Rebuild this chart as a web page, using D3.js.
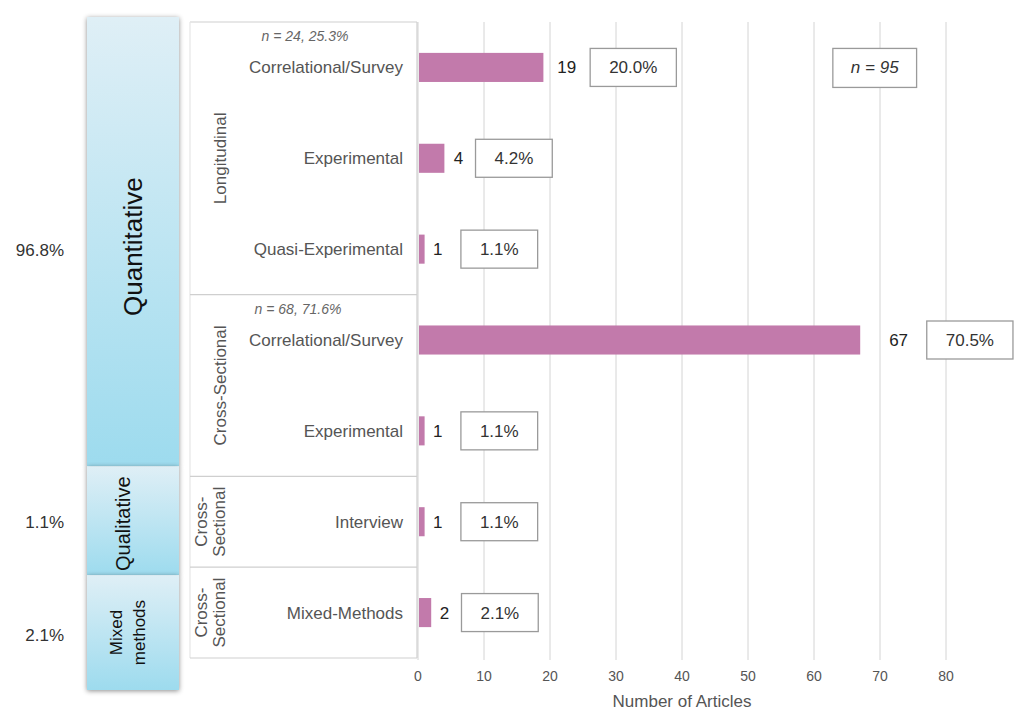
<!DOCTYPE html>
<html>
<head>
<meta charset="utf-8">
<script src="https://cdn.jsdelivr.net/npm/d3@7"></script>
<style>
  html, body { margin: 0; padding: 0; background: #fff; }
  svg { display: block; font-family: "Liberation Sans", Arial, Helvetica, sans-serif; }
</style>
</head>
<body>
<svg id="chart" width="1017" height="712"></svg>
<script>
// ---------------- DATA ----------------
const rowLabels = ["Correlational/Survey", "Experimental", "Quasi-Experimental",
                   "Correlational/Survey", "Experimental", "Interview", "Mixed-Methods"];
const counts = [19, 4, 1, 67, 1, 1, 2];
const percents = ["20.0%", "4.2%", "1.1%", "70.5%", "1.1%", "1.1%", "2.1%"];

const designLabels = [["Longitudinal"], ["Cross-Sectional"], ["Cross-", "Sectional"], ["Cross-", "Sectional"]];
const designRows = [[0, 2], [3, 4], [5, 5], [6, 6]];
const designNotes = ["n = 24, 25.3%", "n = 68, 71.6%", "", ""];

const methodLabels = [["Quantitative"], ["Qualitative"], ["Mixed", "methods"]];
const methodRows = [[0, 4], [5, 5], [6, 6]];
const methodPercents = ["96.8%", "1.1%", "2.1%"];

const totalLabel = "n = 95";
const xTicks = [0, 10, 20, 30, 40, 50, 60, 70, 80];
const xTitle = "Number of Articles";

// ---------------- LAYOUT ----------------
const svg = d3.select("#chart");
const topY = 22, bottomY = 658;
const x = d3.scaleLinear().domain([0, 80]).range([418, 946]);
const y = d3.scaleBand().domain(d3.range(rowLabels.length)).range([topY, bottomY])
  .paddingInner(0.68).paddingOuter(0.34);
const step = y.step();
const rowTop = i => topY + i * step;
const rowMid = i => y(i) + y.bandwidth() / 2;

const grey = "#555";
const defs = svg.append("defs");
const grad = defs.append("linearGradient").attr("id", "blueGrad")
  .attr("x1", 0).attr("y1", 0).attr("x2", 0).attr("y2", 1);
grad.append("stop").attr("offset", "0%").attr("stop-color", "#dfeff6");
grad.append("stop").attr("offset", "100%").attr("stop-color", "#9ddbee");
const sh = defs.append("filter").attr("id", "shadow").attr("x", "-20%").attr("y", "-10%")
  .attr("width", "140%").attr("height", "120%");
sh.append("feDropShadow").attr("dx", 0).attr("dy", 1).attr("stdDeviation", 2.5)
  .attr("flood-color", "#000").attr("flood-opacity", 0.45);

// gridlines
svg.append("g").selectAll("line").data(xTicks).join("line")
  .attr("x1", d => x(d)).attr("x2", d => x(d))
  .attr("y1", topY).attr("y2", bottomY + 2)
  .attr("stroke", "#d4d4d4").attr("stroke-width", 1);

// axis tick labels
svg.append("g").selectAll("text").data(xTicks).join("text")
  .attr("x", d => x(d)).attr("y", 681)
  .attr("text-anchor", "middle").attr("font-size", 14).attr("fill", grey)
  .text(d => d);
svg.append("text").attr("x", x(40)).attr("y", 707).attr("text-anchor", "middle")
  .attr("font-size", 17).attr("fill", grey).text(xTitle);

// table frame
const tblL = 190, tblR = 417;
const frame = svg.append("g").attr("stroke", "#cfcfcf").attr("stroke-width", 1.2).attr("fill", "none");
frame.append("line").attr("x1", tblL).attr("x2", tblR).attr("y1", topY).attr("y2", topY);
frame.append("line").attr("x1", tblR).attr("x2", tblR).attr("y1", topY).attr("y2", bottomY);
frame.append("line").attr("x1", tblL).attr("x2", tblL).attr("y1", topY).attr("y2", bottomY).attr("stroke", "#e6e6e6");
designRows.forEach(r => {
  const yy = rowTop(r[1] + 1);
  frame.append("line").attr("x1", tblL).attr("x2", tblR).attr("y1", yy).attr("y2", yy);
});

// row labels
svg.append("g").selectAll("text").data(rowLabels).join("text")
  .attr("x", 403).attr("y", (d, i) => rowMid(i)).attr("dy", "0.35em")
  .attr("text-anchor", "end").attr("font-size", 17).attr("fill", grey)
  .text(d => d);

// design group labels (rotated) and notes
designLabels.forEach((lines, k) => {
  const [a, b] = designRows[k];
  const cy = (rowTop(a) + rowTop(b + 1)) / 2;
  const n = lines.length;
  lines.forEach((t, j) => {
    const cx = n === 1 ? 220 : 201 + j * 18;
    svg.append("text").attr("transform", `translate(${cx},${cy}) rotate(-90)`)
      .attr("text-anchor", "middle").attr("dy", "0.35em")
      .attr("font-size", 17).attr("fill", grey).text(t);
  });
  if (designNotes[k]) {
    svg.append("text").attr("x", k ? 298 : 305).attr("y", rowTop(a) + 14 + (k ? 1 : 0))
      .attr("dy", "0.35em").attr("text-anchor", "middle")
      .attr("font-size", 14).attr("font-style", "italic").attr("fill", "#666")
      .text(designNotes[k]);
  }
});

// method boxes
const boxEdge = (k) => {
  const [a, b] = methodRows[k];
  const adj = [[-5, -10], [-10, 8], [8, 32]][k];
  return [rowTop(a) + adj[0], rowTop(b + 1) + adj[1]];
};
methodLabels.forEach((lines, k) => {
  const [y0, y1] = boxEdge(k);
  svg.append("rect").attr("x", 87).attr("y", y0).attr("width", 92).attr("height", y1 - y0)
    .attr("fill", "url(#blueGrad)").attr("filter", "url(#shadow)");
});
methodLabels.forEach((lines, k) => {
  const [y0, y1] = boxEdge(k);
  const cy = (y0 + y1) / 2 + [5, 3, 0][k];
  const fs = [26, 20, 17][k];
  const n = lines.length;
  lines.forEach((t, j) => {
    const cx = n === 1 ? (k === 0 ? 133 : 123) : 116 + j * 23;
    svg.append("text").attr("transform", `translate(${cx},${cy}) rotate(-90)`)
      .attr("text-anchor", "middle").attr("dy", "0.35em")
      .attr("font-size", fs).attr("fill", "#111").text(t);
  });
  const [a, b] = methodRows[k];
  const py = [(rowTop(a) + rowTop(b + 1)) / 2 + 1, rowMid(a), (y0 + y1) / 2 + 2][k];
  svg.append("text").attr("x", 64).attr("y", py).attr("dy", "0.35em")
    .attr("text-anchor", "end").attr("font-size", 17).attr("fill", "#333")
    .text(methodPercents[k]);
});

// bars
svg.append("g").selectAll("rect").data(counts).join("rect")
  .attr("x", x(0) + 1).attr("y", (d, i) => y(i))
  .attr("width", d => x(d) - x(0) - 1).attr("height", y.bandwidth())
  .attr("fill", "#c27aab");

// value labels and percent boxes
counts.forEach((v, i) => {
  const cy = rowMid(i);
  const tx = x(v) + 8 + 0.3125 * (x(v) - x(0)) / (x(1) - x(0));
  const t = svg.append("text").attr("x", tx).attr("y", cy).attr("dy", "0.35em")
    .attr("font-size", 17).attr("fill", "#222").text(v);
  const tEnd = tx + t.node().getComputedTextLength();
  const g = svg.append("g");
  const pt = g.append("text").attr("font-size", 17).attr("fill", "#333")
    .attr("text-anchor", "middle").attr("dy", "0.35em").text(percents[i]);
  const w = pt.node().getComputedTextLength() + 38;
  const bx = Math.max(tEnd + 12 + 0.1 * (x(v) - x(0)) / (x(1) - x(0)), x(6.5));
  g.insert("rect", "text").attr("x", bx).attr("y", cy - 19).attr("width", w).attr("height", 38)
    .attr("fill", "#fff").attr("stroke", "#9a9a9a").attr("stroke-width", 1.3);
  pt.attr("x", bx + w / 2).attr("y", cy);
});

// total annotation
{
  const cy = rowMid(0);
  const g = svg.append("g");
  const t = g.append("text").attr("font-size", 17).attr("font-style", "italic").attr("fill", "#333")
    .attr("text-anchor", "middle").attr("dy", "0.35em").text(totalLabel);
  const w = t.node().getComputedTextLength() + 36;
  const cx = x(69.2);
  g.insert("rect", "text").attr("x", cx - w / 2).attr("y", cy - 19).attr("width", w).attr("height", 39)
    .attr("fill", "#fff").attr("stroke", "#9a9a9a").attr("stroke-width", 1.3);
  t.attr("x", cx).attr("y", cy);
}
</script>
</body>
</html>
